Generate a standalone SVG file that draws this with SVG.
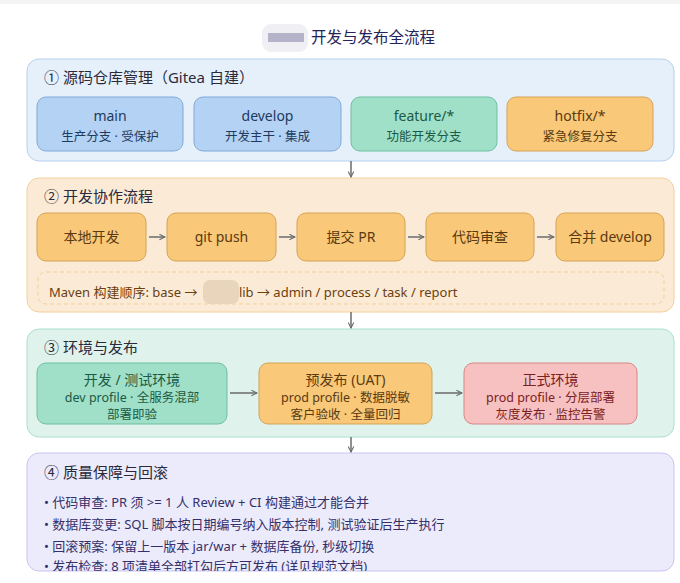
<svg xmlns="http://www.w3.org/2000/svg" width="680" height="583" viewBox="0 0 680 583">
<defs>
<style>
text{font-family:"Noto Sans","Noto Sans CJK SC",sans-serif;}
.sec-t{font-size:15px;fill:#2a2a3a;}
.nt{font-size:14px;text-anchor:middle;}
.ns{font-size:12.5px;text-anchor:middle;}
.blue rect{fill:#b4d2f3;stroke:#80a9d8;}
.blue text{fill:#1e3a5f;}
.green rect{fill:#a0e0c9;stroke:#6dbf9f;}
.green text{fill:#1b5a44;}
.orange rect{fill:#f9c878;stroke:#d4a356;}
.orange text{fill:#5a3a10;}
.pink rect{fill:#f7c1c1;stroke:#d98585;}
.pink text{fill:#7a2222;}
.conn line{stroke:#6a6a6a;stroke-width:1.5;fill:none;}
.bul{font-size:13px;fill:#34306a;}
</style>
<marker id="ah" viewBox="0 0 10 10" refX="9" refY="5" markerWidth="7" markerHeight="7" orient="auto-start-reverse" markerUnits="userSpaceOnUse">
<path d="M1,1 L9,5 L1,9" fill="none" stroke="#6a6a6a" stroke-width="1.5"/>
</marker>
<clipPath id="c4"><rect x="27" y="453" width="647" height="118" rx="12"/></clipPath>
</defs>
<rect x="0" y="0" width="680" height="583" fill="#ffffff"/>
<rect x="0" y="0" width="680" height="4" fill="#f4f4f4"/>

<g id="title">
<rect x="262" y="24" width="46" height="28" rx="9" fill="#f0f0f4"/>
<rect x="268" y="33" width="36" height="9" fill="#b5b3ca"/>
<text x="311" y="43" font-size="15.5" fill="#25235a">开发与发布全流程</text>
</g>

<g id="sec1">
<rect x="27" y="59" width="647" height="102" rx="12" fill="#e6f0fb" stroke="#b6d1ee"/>
<text class="sec-t" x="44" y="83">① 源码仓库管理（Gitea 自建）</text>
</g>
<g id="main" class="blue"><rect x="37" y="97" width="146" height="54" rx="9"/><text class="nt" x="110" y="121">main</text><text class="ns" x="110" y="141">生产分支 · 受保护</text></g>
<g id="develop" class="blue"><rect x="194" y="97" width="147" height="54" rx="9"/><text class="nt" x="267.5" y="121">develop</text><text class="ns" x="267.5" y="141">开发主干 · 集成</text></g>
<g id="feature" class="green"><rect x="351" y="97" width="146" height="54" rx="9"/><text class="nt" x="424" y="121">feature/*</text><text class="ns" x="424" y="141">功能开发分支</text></g>
<g id="hotfix" class="orange"><rect x="507" y="97" width="146" height="54" rx="9"/><text class="nt" x="580" y="121">hotfix/*</text><text class="ns" x="580" y="141">紧急修复分支</text></g>

<g id="sec2">
<rect x="27" y="178" width="647" height="134" rx="12" fill="#fbebd6" stroke="#f3d09a"/>
<text class="sec-t" x="44" y="202">② 开发协作流程</text>
<rect x="38" y="272" width="626" height="32" rx="8" fill="none" stroke="#f3cf98" stroke-dasharray="4 3"/>
<rect x="203" y="280" width="36" height="24" rx="7" fill="#e8d5bb"/>
<text x="49" y="297" font-size="13" fill="#6b3f10">Maven 构建顺序: base → <tspan dx="38">lib → admin / process / task / report</tspan></text>
</g>
<g id="local" class="orange"><rect x="37" y="213" width="109" height="48" rx="9"/><text class="nt" x="91.5" y="242">本地开发</text></g>
<g id="push" class="orange"><rect x="167" y="213" width="109" height="48" rx="9"/><text class="nt" x="221.5" y="242">git push</text></g>
<g id="pr" class="orange"><rect x="297" y="213" width="108" height="48" rx="9"/><text class="nt" x="351" y="242">提交 PR</text></g>
<g id="review" class="orange"><rect x="426" y="213" width="108" height="48" rx="9"/><text class="nt" x="480" y="242">代码审查</text></g>
<g id="merge" class="orange"><rect x="556" y="213" width="108" height="48" rx="9"/><text class="nt" x="610" y="242">合并 develop</text></g>

<g id="sec3">
<rect x="27" y="329" width="647" height="108" rx="12" fill="#dff3ec" stroke="#aae0cc"/>
<text class="sec-t" x="44" y="353">③ 环境与发布</text>
</g>
<g id="devenv" class="green"><rect x="37" y="363" width="190" height="61" rx="9"/><text class="nt" x="132" y="385">开发 / 测试环境</text><text class="ns" x="132" y="402">dev profile · 全服务混部</text><text class="ns" x="132" y="419">部署即验</text></g>
<g id="uat" class="orange"><rect x="259" y="363" width="173" height="61" rx="9"/><text class="nt" x="345.5" y="385">预发布 (UAT)</text><text class="ns" x="345.5" y="402">prod profile · 数据脱敏</text><text class="ns" x="345.5" y="419">客户验收 · 全量回归</text></g>
<g id="prod" class="pink"><rect x="464" y="363" width="173" height="61" rx="9"/><text class="nt" x="550.5" y="385">正式环境</text><text class="ns" x="550.5" y="402">prod profile · 分层部署</text><text class="ns" x="550.5" y="419">灰度发布 · 监控告警</text></g>

<g id="sec4">
<rect x="27" y="453" width="647" height="118" rx="12" fill="#ecebfc" stroke="#c9c5f0"/>
<text class="sec-t" x="44" y="478">④ 质量保障与回滚</text>
<g clip-path="url(#c4)">
<text class="bul" x="44" y="507">• 代码审查: PR 须 &gt;= 1 人 Review + CI 构建通过才能合并</text>
<text class="bul" x="44" y="529">• 数据库变更: SQL 脚本按日期编号纳入版本控制, 测试验证后生产执行</text>
<text class="bul" x="44" y="551">• 回滚预案: 保留上一版本 jar/war + 数据库备份, 秒级切换</text>
<text class="bul" x="44" y="571">• 发布检查: 8 项清单全部打勾后方可发布 (详见规范文档)</text>
</g>
</g>

<g id="connectors" class="conn">
<line x1="351" y1="161" x2="351" y2="177" marker-end="url(#ah)"/>
<line x1="351" y1="312" x2="351" y2="328" marker-end="url(#ah)"/>
<line x1="351" y1="437" x2="351" y2="452" marker-end="url(#ah)"/>
<line x1="149" y1="237" x2="165" y2="237" marker-end="url(#ah)"/>
<line x1="279" y1="237" x2="295" y2="237" marker-end="url(#ah)"/>
<line x1="408" y1="237" x2="424" y2="237" marker-end="url(#ah)"/>
<line x1="537" y1="237" x2="554" y2="237" marker-end="url(#ah)"/>
<line x1="230" y1="393" x2="257" y2="393" marker-end="url(#ah)"/>
<line x1="435" y1="393" x2="462" y2="393" marker-end="url(#ah)"/>
</g>
</svg>
